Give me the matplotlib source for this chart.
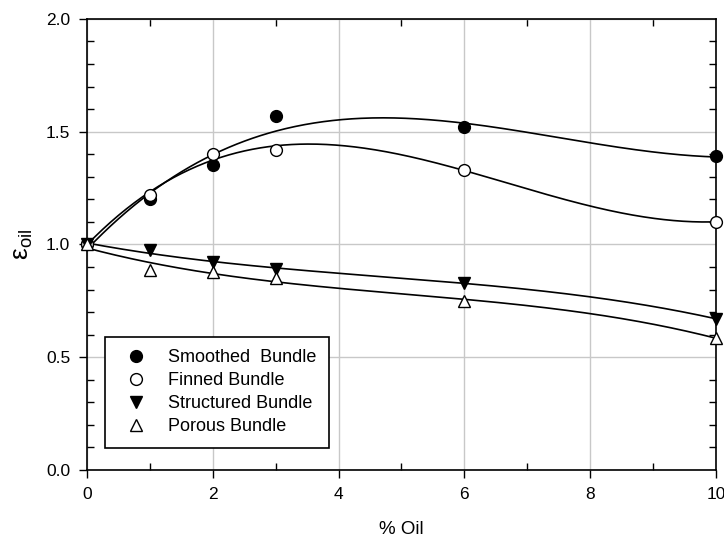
import numpy as np
import matplotlib.pyplot as plt
from matplotlib.ticker import MultipleLocator

plt.rcParams["font.family"] = ["Liberation Sans", "DejaVu Sans"]

# % oil concentration
oil = np.array([0, 1, 2, 3, 6, 10])

# enhancement factor for each bundle
smoothed = np.array([1.00, 1.20, 1.35, 1.57, 1.52, 1.39])
finned = np.array([1.00, 1.22, 1.40, 1.42, 1.33, 1.10])
structured = np.array([1.00, 0.975, 0.92, 0.89, 0.83, 0.67])
porous = np.array([1.00, 0.885, 0.88, 0.85, 0.75, 0.585])

series = [
    ("Smoothed  Bundle", smoothed, "o", "black"),
    ("Finned Bundle", finned, "o", "white"),
    ("Structured Bundle", structured, "v", "black"),
    ("Porous Bundle", porous, "^", "white"),
]

fig = plt.figure(figsize=(7.24, 5.39), dpi=100)
ax = fig.add_axes([0.120, 0.128, 0.869, 0.837])

xs = np.linspace(0, 10, 400)
for label, y, mk, fc in series:
    # cubic regression line through each data set
    coef = np.polyfit(oil, y, 3)
    ax.plot(xs, np.polyval(coef, xs), color="black", lw=1.2, zorder=2)
    ax.plot(oil, y, linestyle="none", marker=mk, markersize=8.5,
            markerfacecolor=fc, markeredgecolor="black", markeredgewidth=1.0,
            label=label, zorder=3, clip_on=False)

ax.set_xlim(0, 10)
ax.set_ylim(0, 2.0)
ax.xaxis.set_major_locator(MultipleLocator(2))
ax.xaxis.set_minor_locator(MultipleLocator(1))
ax.yaxis.set_major_locator(MultipleLocator(0.5))
ax.yaxis.set_minor_locator(MultipleLocator(0.1))
ax.yaxis.set_major_formatter(plt.FormatStrFormatter("%.1f"))

ax.grid(True, which="major", color="#c8c8c8", lw=1.0, zorder=0)
ax.set_axisbelow(True)
ax.tick_params(which="major", direction="out", length=6, width=1,
               labelsize=12.5, pad=6)
ax.tick_params(which="minor", direction="in", length=5, width=1,
               top=True, right=True)
for sp in ax.spines.values():
    sp.set_linewidth(1.2)

ax.set_xlabel("% Oil", fontsize=13.5, labelpad=14)
ax.set_ylabel(r"$\mathregular{\varepsilon_{oil}}$", fontsize=19, labelpad=8)

leg = ax.legend(loc="lower left", bbox_to_anchor=(0.029, 0.049),
                fancybox=False, edgecolor="black", framealpha=1,
                fontsize=13, handletextpad=0.8, borderpad=0.7,
                borderaxespad=0, labelspacing=0.33)
leg.get_frame().set_linewidth(1.2)

fig.savefig("out.png", dpi=100)
